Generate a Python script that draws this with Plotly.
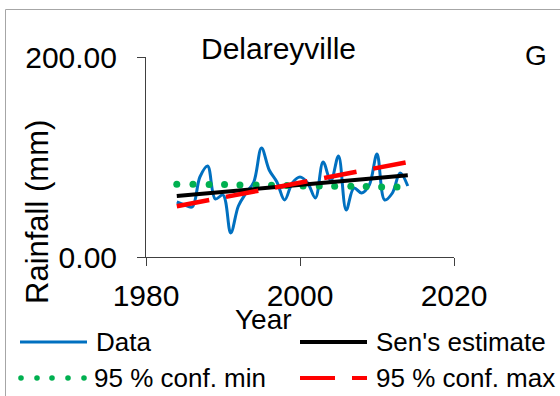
import plotly.graph_objects as go

# ---- data ----
years = list(range(1984, 2015))
rainfall = [55, 52, 50, 80, 91, 58, 62, 24, 51, 64, 75, 109, 87, 75, 57, 74,
            80, 74, 59, 95, 76, 101, 47, 69, 64, 72, 103, 57, 64, 84, 71]
sen_years = [1984, 2014]
sen_values = [61, 81.7]
conf_max_years = [1984, 2014]
conf_max_values = [50.7, 95]
conf_min_years = [1984.0, 1986.1, 1988.2, 1990.2, 1992.2, 1994.3, 1996.3, 1998.3,
                  2000.4, 2002.5, 2004.5, 2006.6, 2008.6, 2010.6, 2012.6]
conf_min_values = [72.7, 72.7, 72.4, 72.4, 72.0, 72.0, 71.7, 71.4,
                   71.0, 71.0, 70.7, 70.7, 70.4, 70.0, 70.0]
x_ticks = [1980, 2000, 2020]
y_ticks = [0, 200]
y_tick_labels = ["0.00", "200.00"]
station = "Delareyville"
panel = "G"
legend_labels = ["Data", "Sen's estimate", "95 % conf. min", "95 % conf. max"]

W, H = 560, 396
ML, MR, MT, MB = 146, 106, 57, 139
PW, PH = W - ML - MR, H - MT - MB
FONT = "Liberation Sans, Arial, sans-serif"

def px(x):
    return (x - ML) / PW

def py(y):
    return (H - MB - y) / PH

fig = go.Figure()
fig.add_trace(go.Scatter(x=years, y=rainfall, mode="lines",
                         line=dict(color="#0070C0", width=3, shape="spline", smoothing=1),
                         showlegend=False))
fig.add_trace(go.Scatter(x=conf_min_years, y=conf_min_values, mode="markers",
                         marker=dict(color="#00B050", size=7), showlegend=False))
fig.add_trace(go.Scatter(x=sen_years, y=sen_values, mode="lines",
                         line=dict(color="black", width=4), showlegend=False))
fig.add_trace(go.Scatter(x=conf_max_years, y=conf_max_values, mode="lines",
                         line=dict(color="#FF0000", width=4.5, dash="33px,17px"),
                         showlegend=False))

shapes = []
# outer chart border
shapes.append(dict(type="rect", xref="paper", yref="paper",
                   x0=px(5.5), x1=px(700), y0=py(600), y1=py(9.5),
                   line=dict(color="#A6A6A6", width=1), layer="below"))
# legend samples
r1, r2 = 342, 378
shapes.append(dict(type="line", xref="paper", yref="paper", x0=px(20), x1=px(87),
                   y0=py(r1), y1=py(r1), line=dict(color="#0070C0", width=3)))
shapes.append(dict(type="line", xref="paper", yref="paper", x0=px(300), x1=px(367),
                   y0=py(r1), y1=py(r1), line=dict(color="black", width=4)))
shapes.append(dict(type="line", xref="paper", yref="paper", x0=px(300), x1=px(335),
                   y0=py(r2), y1=py(r2), line=dict(color="#FF0000", width=4)))
shapes.append(dict(type="line", xref="paper", yref="paper", x0=px(352), x1=px(367),
                   y0=py(r2), y1=py(r2), line=dict(color="#FF0000", width=4)))
for dx in [21, 37, 52, 68, 84]:
    shapes.append(dict(type="circle", xref="paper", yref="paper",
                       x0=px(dx - 2.8), x1=px(dx + 2.8), y0=py(r2 + 2.8), y1=py(r2 - 2.8),
                       fillcolor="#00B050", line=dict(width=0)))

ann = []
def text(t, x, y, size, xanchor="center", angle=0):
    ann.append(dict(text=t, x=px(x), y=py(y), xref="paper", yref="paper",
                    showarrow=False, xanchor=xanchor, yanchor="middle",
                    textangle=angle, font=dict(family=FONT, size=size, color="black")))

text(station, 278, 49, 30)
text(panel, 536, 55, 28)
text("Year", 263, 319, 28)
text("Rainfall (mm)", 37, 212, 31, angle=-90)
text(legend_labels[0], 94, r1, 26, xanchor="left")
text(legend_labels[1], 374, r1, 26, xanchor="left")
text(legend_labels[2], 92, r2, 26, xanchor="left")
text(legend_labels[3], 374, r2, 26, xanchor="left")

fig.update_layout(
    width=W, height=H, margin=dict(l=ML, r=MR, t=MT, b=MB),
    paper_bgcolor="white", plot_bgcolor="white",
    font=dict(family=FONT, size=30, color="black"),
    shapes=shapes, annotations=ann, showlegend=False,
)
fig.update_xaxes(range=[1980, 2020], tickvals=x_ticks, ticks="outside", ticklen=8,
                 tickcolor="#404040", showline=True, linecolor="#404040", linewidth=1,
                 showgrid=False, zeroline=False, ticklabelstandoff=4,
                 tickfont=dict(size=30))
fig.update_yaxes(range=[0, 200], tickvals=y_ticks, ticktext=y_tick_labels,
                 ticks="outside", ticklen=8, tickcolor="#404040", showline=True,
                 linecolor="#404040", linewidth=1, showgrid=False, zeroline=False,
                 ticklabelstandoff=14, tickfont=dict(size=30))

fig.write_html("out.html", config={"displayModeBar": False},
               post_script="document.body.style.margin='0';document.body.style.padding='0';")
